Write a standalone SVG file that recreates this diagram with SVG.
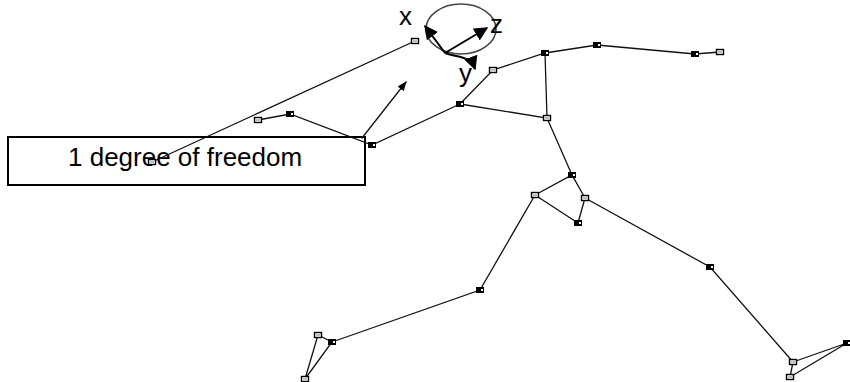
<svg xmlns="http://www.w3.org/2000/svg" width="850" height="382" viewBox="0 0 850 382">
  <defs>
    <style>
      .bone { stroke: #111; stroke-width: 1.3; fill: none; stroke-linecap: round; }
      .axis { stroke: #000; stroke-width: 2; fill: none; }
      .lbl { font-family: "Liberation Sans", Arial, sans-serif; font-size: 26px; fill: #000; }
      .box { fill: #fff; stroke: #000; stroke-width: 2; }
    </style>
    <marker id="head" viewBox="0 0 10 10" refX="9" refY="5" markerWidth="7" markerHeight="7" orient="auto" markerUnits="strokeWidth">
      <path d="M0,0 L10,5 L0,10 Z" fill="#000"/>
    </marker>
    <marker id="headSmall" viewBox="0 0 10 10" refX="9" refY="5" markerWidth="7.5" markerHeight="7.5" orient="auto" markerUnits="strokeWidth">
      <path d="M0,1 L10,5 L0,9 Z" fill="#000"/>
    </marker>
    <g id="jf">
      <rect x="-4" y="-3" width="8" height="6" fill="#000"/>
      <rect x="1" y="-1" width="2" height="2" fill="#fff"/>
    </g>
    <g id="jh">
      <rect x="-3.5" y="-2.5" width="7" height="5" fill="#fff" stroke="#000" stroke-width="1.4"/>
      <rect x="-1.5" y="-0.5" width="1" height="1" fill="#000"/>
      <rect x="0.5" y="-0.5" width="1" height="1" fill="#000"/>
    </g>
  </defs>

  <rect width="850" height="382" fill="#fff"/>

  <!-- label box -->
  <g id="label-box">
    <rect class="box" x="8" y="137" width="357" height="48"/>
    <text class="lbl" x="68" y="166">1 degree of freedom</text>
  </g>

  <!-- head with local axes -->
  <g id="head-frame">
    <ellipse cx="461" cy="29" rx="35" ry="25" fill="none" stroke="#444" stroke-width="1.6"/>
    <line class="axis" x1="445" y1="53" x2="425" y2="26" marker-end="url(#head)"/>
    <line class="axis" x1="445" y1="53" x2="487" y2="28" marker-end="url(#head)"/>
    <path class="axis" d="M445,53 C458,58 470,55 475,69" marker-end="url(#head)"/>
    <text class="lbl" x="399" y="25">x</text>
    <text class="lbl" x="490" y="33">z</text>
    <text class="lbl" x="459" y="82">y</text>
  </g>

  <!-- skeleton bones -->
  <g id="connectors">
    <!-- far arm -->
    <polyline class="bone" points="415,41 152,162"/>
    <!-- near arm -->
    <polyline class="bone" points="460,104 372,145 290,114 258,120"/>
    <!-- shoulders, torso and raised arm -->
    <polyline class="bone" points="460,104 493,70 545,53 597,45 695,54 720,52"/>
    <polyline class="bone" points="545,53 547,118"/>
    <polyline class="bone" points="460,104 547,118 572,175"/>
    <!-- pelvis -->
    <polyline class="bone" points="535,195 572,175 585,198 578,223 535,195"/>
    <!-- back leg -->
    <polyline class="bone" points="535,195 480,290 332,342"/>
    <polygon class="bone" points="318,335 332,342 305,379"/>
    <!-- front leg -->
    <polyline class="bone" points="585,198 710,267 793,362"/>
    <polygon class="bone" points="793,362 847,343 790,377"/>
    <!-- pointer to joint -->
    <line class="bone" x1="362" y1="138" x2="406" y2="82" stroke="#000" stroke-width="1.6" marker-end="url(#headSmall)"/>
  </g>

  <!-- joints -->
  <g id="j-hand-far"><use href="#jh" x="415" y="41"/></g>
  <g id="j-hand-far-end"><use href="#jh" x="152" y="162"/></g>
  <g id="j-hand-near"><use href="#jh" x="258" y="120"/></g>
  <g id="j-wrist-near"><use href="#jf" x="290" y="114"/></g>
  <g id="j-elbow-near"><use href="#jf" x="372" y="145"/></g>
  <g id="j-shoulder-near"><use href="#jf" x="460" y="104"/></g>
  <g id="j-neck"><use href="#jh" x="493" y="70"/></g>
  <g id="j-shoulder-far"><use href="#jf" x="545" y="53"/></g>
  <g id="j-elbow-far"><use href="#jf" x="597" y="45"/></g>
  <g id="j-wrist-far"><use href="#jf" x="695" y="54"/></g>
  <g id="j-fingers-far"><use href="#jh" x="720" y="52"/></g>
  <g id="j-spine"><use href="#jh" x="547" y="118"/></g>
  <g id="j-pelvis"><use href="#jf" x="572" y="175"/></g>
  <g id="j-hip-back"><use href="#jh" x="535" y="195"/></g>
  <g id="j-hip-front"><use href="#jh" x="585" y="198"/></g>
  <g id="j-pelvis-low"><use href="#jf" x="578" y="223"/></g>
  <g id="j-knee-back"><use href="#jf" x="480" y="290"/></g>
  <g id="j-ankle-back"><use href="#jf" x="332" y="342"/></g>
  <g id="j-heel-back"><use href="#jh" x="318" y="335"/></g>
  <g id="j-toe-back"><use href="#jh" x="305" y="379"/></g>
  <g id="j-knee-front"><use href="#jf" x="710" y="267"/></g>
  <g id="j-ankle-front"><use href="#jh" x="793" y="362"/></g>
  <g id="j-heel-front"><use href="#jh" x="790" y="377"/></g>
  <g id="j-toe-front"><use href="#jf" x="847" y="343"/></g>
</svg>
